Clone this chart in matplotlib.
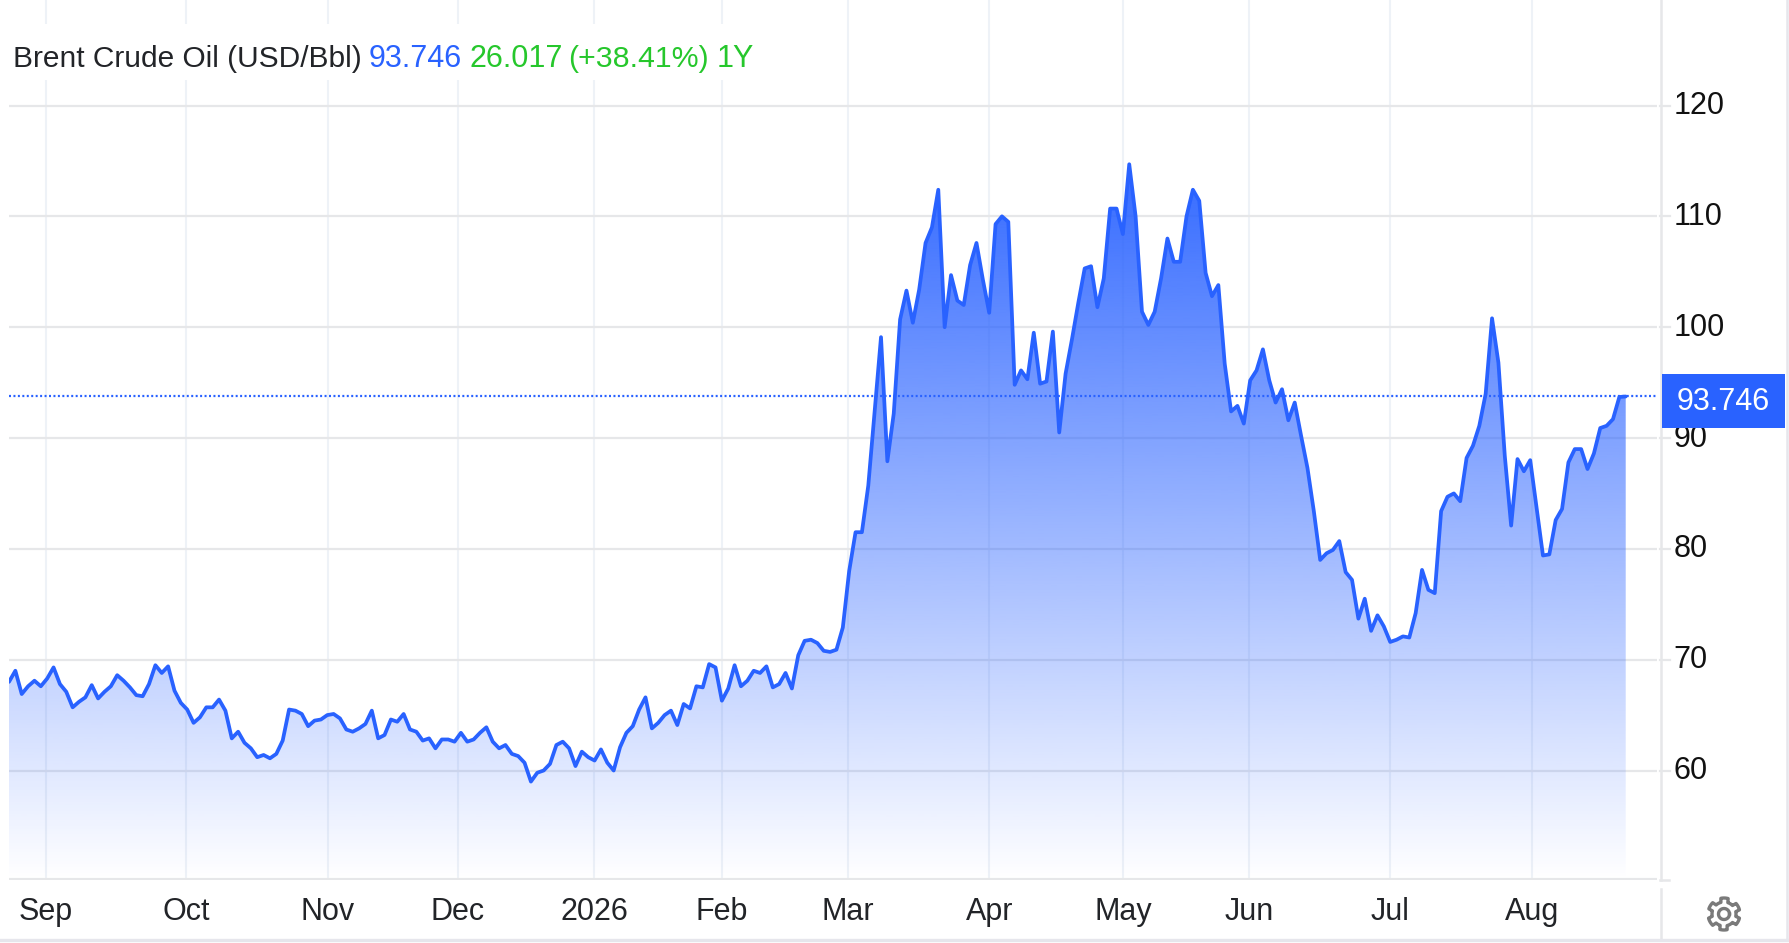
import numpy as np
import matplotlib
matplotlib.use("Agg")
import matplotlib.pyplot as plt
from matplotlib.patches import Rectangle, Polygon
from matplotlib.lines import Line2D

W, H = 1789, 943
BLUE = "#2962ff"
GREEN = "#26c72c"
DARK = "#222428"
HGRID = "#e6e7e9"
VGRID = "#eef2f7"
plt.rcParams["font.family"] = ["Liberation Sans", "DejaVu Sans"]

title_parts = ["Brent Crude Oil (USD/Bbl)", "93.746", "26.017", "(+38.41%)", "1Y"]
last_price = 93.746
y_ticks = [60, 70, 80, 90, 100, 110, 120]
month_labels = ["Sep", "Oct", "Nov", "Dec", "2026", "Feb", "Mar", "Apr", "May", "Jun", "Jul", "Aug"]
month_index = [5.8, 27.8, 50.1, 70.5, 91.9, 112.0, 131.8, 154.0, 175.0, 194.8, 217.0, 239.3]

prices_sep_dec = [
    68.0, 69.0, 66.9, 67.6, 68.1, 67.6, 68.3, 69.3, 67.8, 67.1, 65.7, 66.2, 66.6, 67.7, 66.5, 67.1,
    67.6, 68.6, 68.1, 67.5, 66.8, 66.7, 67.8, 69.5, 68.8, 69.4, 67.2, 66.1, 65.5, 64.3, 64.8, 65.7,
    65.7, 66.4, 65.4, 62.9, 63.5, 62.5, 62.0, 61.2, 61.4, 61.1, 61.5, 62.7, 65.5, 65.4, 65.1, 64.0,
    64.5, 64.6, 65.0, 65.1, 64.7, 63.7, 63.5, 63.8, 64.2, 65.4, 62.9, 63.2, 64.6, 64.4, 65.1, 63.7,
    63.5, 62.7, 62.9, 62.0, 62.8, 62.8, 62.6, 63.4, 62.6, 62.8, 63.4, 63.9, 62.6, 62.0, 62.3, 61.5,
    61.3, 60.7, 59.0, 59.8, 60.0, 60.6, 62.3, 62.6, 62.0, 60.4, 61.7,
]
prices_jan_feb = [
    61.2, 60.9, 61.9, 60.7, 60.0, 62.1, 63.4, 64.0, 65.5, 66.6, 63.8, 64.3, 65.0, 65.4, 64.1, 66.0,
    65.6, 67.6, 67.5, 69.6, 69.3, 66.3, 67.4, 69.5, 67.6, 68.1, 69.0, 68.8, 69.4, 67.5, 67.8, 68.8,
    67.4, 70.4, 71.7, 71.8, 71.5, 70.8, 70.7, 70.9,
]
prices_mar_may = [
    72.9, 78.0, 81.5, 81.5, 85.7, 92.4, 99.1, 87.9, 92.2, 100.7, 103.3, 100.4, 103.4, 107.6, 109.0,
    112.4, 100.0, 104.7, 102.4, 102.0, 105.6, 107.6, 104.3, 101.3, 109.3, 110.0, 109.5, 94.8, 96.1,
    95.3, 99.5, 94.9, 95.1, 99.6, 90.5, 95.8, 98.9, 102.2, 105.3, 105.5, 101.8, 104.4, 110.7, 110.7,
    108.4, 114.7, 110.0, 101.4, 100.2, 101.4, 104.4, 108.0, 105.9, 105.9, 110.0, 112.4, 111.4, 104.9,
    102.8, 103.8,
]
prices_jun_aug = [
    96.7, 92.4, 92.9, 91.3, 95.2, 96.1, 98.0, 95.2, 93.2, 94.4, 91.6, 93.2, 90.2, 87.3, 83.4, 79.0,
    79.6, 79.9, 80.7, 77.9, 77.2, 73.7, 75.5, 72.6, 74.0, 73.0, 71.6, 71.8, 72.1, 72.0, 74.2, 78.1,
    76.3, 76.0, 83.4, 84.7, 85.0, 84.3, 88.2, 89.3, 91.1, 94.0, 100.8, 96.8, 88.4, 82.1, 88.1, 87.0,
    88.0, 83.7, 79.4, 79.5, 82.6, 83.6, 87.8, 89.0, 89.0, 87.2, 88.6, 90.9, 91.1, 91.7, 93.7, 93.746,
]
prices = np.array(prices_sep_dec + prices_jan_feb + prices_mar_may + prices_jun_aug)
days = np.arange(len(prices))

# pixel calibration
left_px, right_px, bottom_px = 9, 1657, 880
px_per_day = 6.365
px_per_unit = 11.083
y60_px = 770.5
ymin = 60 - (bottom_px - y60_px) / px_per_unit
ymax = 60 + y60_px / px_per_unit
xmax = (right_px - left_px) / px_per_day

fig = plt.figure(figsize=(W / 100, H / 100), dpi=100, facecolor="white")
ax = fig.add_axes([left_px / W, 1 - bottom_px / H, (right_px - left_px) / W, bottom_px / H])
ax.set_xlim(0, xmax)
ax.set_ylim(ymin, ymax)
for s in ax.spines.values():
    s.set_visible(False)
ax.tick_params(left=False, right=False, top=False, bottom=False, labelleft=False, labelbottom=False)

for m in month_index:
    ax.axvline(m, color=VGRID, lw=1.5, zorder=1)
for t in y_ticks:
    ax.axhline(t, color=HGRID, lw=1.6, zorder=1.2)
ax.axhline(ymin, color=HGRID, lw=3.0, zorder=1.2, clip_on=True)

# gradient area
poly = ax.fill_between(days, prices, ymin, facecolor="none", edgecolor="none")
n = 256
rgba = np.zeros((n, 1, 4))
rgba[..., :3] = matplotlib.colors.to_rgb(BLUE)
rgba[:, 0, 3] = np.linspace(0.95, 0.0, n)
im = ax.imshow(rgba, extent=[0, days[-1], ymin, prices.max()], aspect="auto", origin="upper",
               interpolation="bilinear", zorder=2)
ax.set_xlim(0, xmax)
ax.set_ylim(ymin, ymax)
im.set_clip_path(poly.get_paths()[0], transform=ax.transData)

ax.axhline(last_price, color=BLUE, lw=1.6, ls=(0, (0.9, 1.1)), zorder=2.5)
ax.plot(days, prices, color=BLUE, lw=2.7, solid_joinstyle="round", solid_capstyle="round", zorder=3)


def fx(px):
    return px / W


def fy(py):
    return 1 - py / H


FS = 22
# y labels and ticks
for t in y_ticks:
    py = y60_px - (t - 60) * px_per_unit
    fig.add_artist(Line2D([fx(1660), fx(1670)], [fy(py), fy(py)], color=HGRID, lw=1.6))
    fig.text(fx(1673.5), fy(py + 0.5), str(t), fontsize=FS, color="#111111", va="center", ha="left")

# x labels
for lab, m in zip(month_labels, month_index):
    px = left_px + m * px_per_day
    fig.text(fx(px), fy(912), lab, fontsize=FS, color=DARK, va="center", ha="center")

# right axis, frame
fig.add_artist(Line2D([fx(1660.5), fx(1660.5)], [fy(0), fy(880)], color=HGRID, lw=1.8))
fig.add_artist(Line2D([fx(1660), fx(1669)], [fy(880), fy(880)], color=HGRID, lw=1.8))
fig.add_artist(Line2D([fx(1661), fx(1661)], [fy(889), fy(939)], color=HGRID, lw=1.8))
fig.add_artist(Line2D([fx(0), fx(1787)], [fy(940), fy(940)], color="#e6e6ec", lw=2.4))
fig.add_artist(Line2D([fx(1787), fx(1787)], [fy(0), fy(940)], color="#e6e6ec", lw=1.8))

# price box
fig.add_artist(Rectangle((fx(1662), fy(427.5)), 123 / W, 54 / H, transform=fig.transFigure,
                         facecolor=BLUE, edgecolor="none", zorder=5))
fig.text(fx(1723.5), fy(402), f"{last_price:.3f}", fontsize=FS, color="white", va="center", ha="center", zorder=6)

# title with white backing
fig.add_artist(Rectangle((fx(9), fy(80)), 750 / W, 56 / H, transform=fig.transFigure,
                         facecolor="white", edgecolor="none", zorder=4))
title_x = [13, 369, 469.5, 568, 717]
title_c = [DARK, BLUE, GREEN, GREEN, GREEN]
title_s = [21.5, FS, FS, 21.8, FS]
for tx, part, col, sz in zip(title_x, title_parts, title_c, title_s):
    fig.text(fx(tx), fy(67), part, fontsize=sz, color=col, va="baseline", ha="left", zorder=6)

# gear icon
cx, cy, ro, ri = 1724, 914, 16, 12
ang = np.linspace(0, 2 * np.pi, 96, endpoint=False)
rad = np.where((((ang - np.pi / 2) * 6 / (2 * np.pi) + 0.25) % 1) < 0.5, ro, ri)
gx, gy = cx + rad * np.cos(ang), cy + rad * np.sin(ang)
fig.add_artist(Polygon(np.c_[fx(gx), fy(gy)], closed=True, transform=fig.transFigure,
                       facecolor="none", edgecolor="#7a7a7a", lw=2.4, joinstyle="round"))
th = np.linspace(0, 2 * np.pi, 40)
fig.add_artist(Line2D(fx(cx + 5.5 * np.cos(th)), fy(cy + 5.5 * np.sin(th)), color="#7a7a7a", lw=2.4))

fig.savefig("out.png", dpi=100)
